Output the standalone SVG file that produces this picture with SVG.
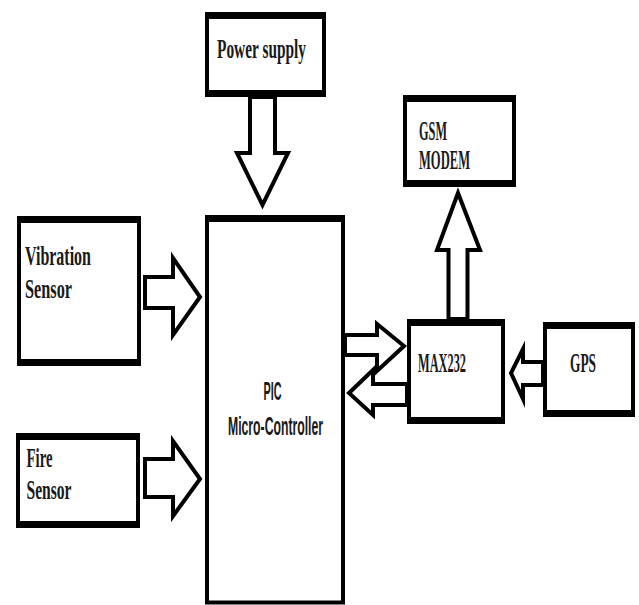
<svg xmlns="http://www.w3.org/2000/svg" width="639" height="605" viewBox="0 0 639 605">
<style>
.box{fill:#fff;stroke:#000;stroke-width:4}
.edge{stroke:#000;stroke-width:7}
.arrow{fill:#fff;stroke:#000;stroke-width:4;stroke-linejoin:miter;stroke-miterlimit:10}
.lbl{font-family:"Liberation Serif","DejaVu Serif",serif;font-size:27px;font-weight:bold;fill:#1a1a1a}
.sans{font-family:"Liberation Sans","DejaVu Sans",sans-serif;font-size:25px;font-weight:bold;fill:#1a1a1a}
</style>
<rect width="639" height="605" fill="#fff"/>
<g id="connectors">
<polygon class="arrow" points="250,97 275,97 275,153 288,153 262.5,205 237,153 250,153"/>
<polygon class="arrow" points="145,277 173,277 173,258 200,297 173,335 173,308 145,308"/>
<polygon class="arrow" points="145,459 173,459 173,441 200,479 173,516 173,497 145,497"/>
<polygon class="arrow" points="345,335 377,335 377,324 404,346 377,371 377,355 345,355"/>
<polygon class="arrow" points="407,384 373,384 373,370 349,393 373,415 373,405 407,405"/>
<polygon class="arrow" points="448.5,319 448.5,250 437,250 458,193 480,250 467.5,250 467.5,319"/>
<polygon class="arrow" points="543,362 523,362 523,349 511,373 523,399 523,385 543,385"/>
</g>
<g id="power">
<rect class="box" x="207" y="15.5" width="117" height="78"/>
<line class="edge" x1="205" y1="15.5" x2="326" y2="15.5"/>
<line class="edge" x1="205" y1="93.5" x2="326" y2="93.5"/>
<text class="lbl" x="217" y="58" textLength="89" lengthAdjust="spacingAndGlyphs">Power supply</text>
</g>
<g id="pic">
<rect class="box" x="207" y="218.5" width="136" height="384"/>
<line class="edge" x1="205" y1="218.5" x2="345" y2="218.5"/>
<text class="sans" x="263.5" y="400" textLength="18" lengthAdjust="spacingAndGlyphs">PIC</text>
<text class="sans" x="228" y="435" textLength="95" lengthAdjust="spacingAndGlyphs">Micro-Controller</text>
</g>
<g id="vibration">
<rect class="box" x="19" y="219.5" width="120" height="143"/>
<line class="edge" x1="17" y1="219.5" x2="141" y2="219.5"/>
<line class="edge" x1="17" y1="362.5" x2="141" y2="362.5"/>
<text class="lbl" x="25" y="265" textLength="66" lengthAdjust="spacingAndGlyphs">Vibration</text>
<text class="lbl" x="25" y="298" textLength="47" lengthAdjust="spacingAndGlyphs">Sensor</text>
</g>
<g id="fire">
<rect class="box" x="18" y="436.5" width="120" height="88"/>
<line class="edge" x1="16" y1="436.5" x2="140" y2="436.5"/>
<line class="edge" x1="16" y1="524.5" x2="140" y2="524.5"/>
<text class="lbl" x="26.5" y="467" textLength="26" lengthAdjust="spacingAndGlyphs">Fire</text>
<text class="lbl" x="26.5" y="499" textLength="45" lengthAdjust="spacingAndGlyphs">Sensor</text>
</g>
<g id="gsm">
<rect class="box" x="405" y="98.5" width="109" height="85"/>
<line class="edge" x1="403" y1="98.5" x2="516" y2="98.5"/>
<line class="edge" x1="403" y1="183.5" x2="516" y2="183.5"/>
<text class="lbl" x="419" y="140" textLength="28" lengthAdjust="spacingAndGlyphs">GSM</text>
<text class="lbl" x="419" y="169" textLength="51" lengthAdjust="spacingAndGlyphs">MODEM</text>
</g>
<g id="max232">
<rect class="box" x="409" y="322.5" width="94" height="98"/>
<line class="edge" x1="407" y1="322.5" x2="505" y2="322.5"/>
<line class="edge" x1="407" y1="420.5" x2="505" y2="420.5"/>
<text class="lbl" x="418" y="372" textLength="48" lengthAdjust="spacingAndGlyphs">MAX232</text>
</g>
<g id="gps">
<rect class="box" x="545" y="325.5" width="88" height="88"/>
<line class="edge" x1="543" y1="325.5" x2="635" y2="325.5"/>
<line class="edge" x1="543" y1="413.5" x2="635" y2="413.5"/>
<text class="lbl" x="570" y="372" textLength="26" lengthAdjust="spacingAndGlyphs">GPS</text>
</g>
</svg>
